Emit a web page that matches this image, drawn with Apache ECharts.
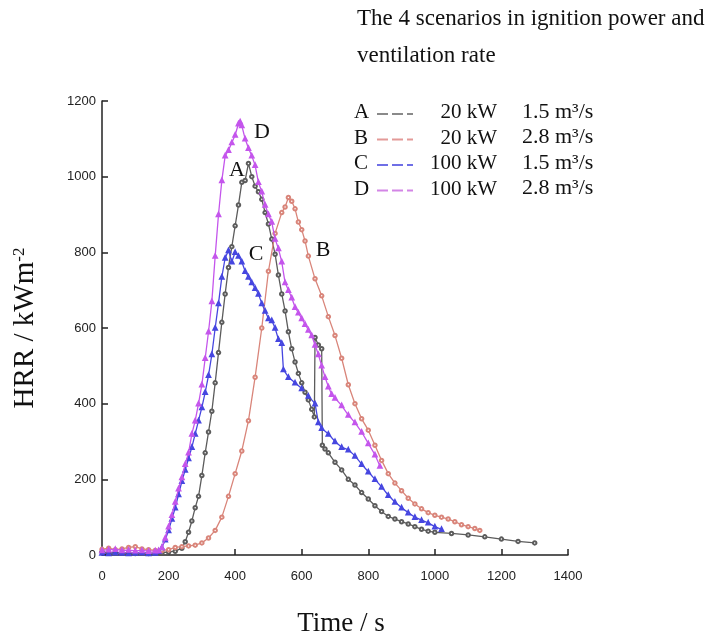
<!DOCTYPE html>
<html>
<head>
<meta charset="utf-8">
<script src="https://cdn.jsdelivr.net/npm/echarts@6/dist/echarts.min.js"></script>
<style>html,body{margin:0;padding:0;background:#fff}#c{width:708px;height:636px}</style>
</head>
<body>
<div id="c"></div>
<script>
// ---- Data (time in s, HRR in kW/m^2) ----
const xTicks = [0, 200, 400, 600, 800, 1000, 1200, 1400];
const yTicks = [0, 200, 400, 600, 800, 1000, 1200];

const tA = [0,20,40,60,80,100,120,140,160,180,200,220,240,250,260,270,280,290,300,310,320,330,340,350,360,370,380,390,400,410,420,430,440,450,460,470,480,490,500,510,520,530,540,550,560,570,580,590,600,610,620,630,638,640,650,660,662,670,680,700,720,740,760,780,800,820,840,860,880,900,920,940,960,980,1000,1050,1100,1150,1200,1250,1300];
const hA = [8,6,5,6,5,4,5,4,5,6,8,10,18,35,60,90,125,155,210,270,325,380,455,535,615,690,760,815,870,925,985,990,1035,1000,975,960,940,905,875,835,795,740,690,645,590,545,510,480,455,430,410,385,365,575,555,545,290,280,270,245,225,200,185,165,148,130,115,102,95,88,82,75,68,63,60,57,53,48,42,36,32];

const tB = [0,20,40,60,80,100,120,140,160,180,200,220,240,260,280,300,320,340,360,380,400,420,440,460,480,500,520,540,550,560,570,580,590,600,610,620,640,660,680,700,720,740,760,780,800,820,840,860,880,900,920,940,960,980,1000,1020,1040,1060,1080,1100,1120,1135];
const hB = [15,18,14,16,20,22,16,14,12,12,14,20,22,24,26,32,45,65,100,155,215,275,355,470,600,750,850,905,920,945,935,915,880,860,830,790,730,685,630,580,520,450,400,360,330,290,250,215,190,170,150,135,122,112,105,100,95,88,80,75,70,65];

const tC = [0,20,40,60,80,100,120,140,160,170,180,190,200,210,220,230,240,250,260,270,280,290,300,310,320,330,340,350,360,370,380,390,400,410,420,430,440,450,460,470,480,490,500,510,520,530,540,545,560,580,600,620,640,650,660,680,700,720,740,760,780,800,820,840,860,880,900,920,940,960,980,1000,1020];
const hC = [5,4,6,5,4,5,6,4,5,10,20,40,65,95,125,160,195,225,255,285,320,355,390,430,475,530,600,665,735,785,805,775,800,790,775,750,735,720,705,690,665,645,625,620,600,570,560,490,470,455,440,420,400,350,335,320,300,285,278,262,240,220,200,180,158,140,125,112,100,92,85,75,68];

const tD = [0,20,40,60,80,100,120,140,160,170,180,190,200,210,220,230,240,250,260,270,280,290,300,310,320,330,340,350,360,370,380,390,400,410,415,420,430,440,450,460,470,480,490,500,510,520,530,540,550,560,570,580,590,600,610,620,630,640,650,660,670,680,690,700,720,740,760,780,800,820,835];
const hD = [12,14,15,12,13,11,12,10,11,12,20,45,75,105,140,175,205,240,270,320,355,400,450,520,590,670,790,900,990,1055,1070,1090,1110,1140,1145,1135,1100,1075,1055,1030,985,960,925,900,880,835,810,775,720,700,680,655,640,625,610,595,580,555,530,500,470,445,425,415,395,370,350,325,295,265,235];

const seriesNames = ['A', 'B', 'C', 'D'];
const ignition = ['20 kW', '20 kW', '100 kW', '100 kW'];
const ventilation = ['1.5 m³/s', '2.8 m³/s', '1.5 m³/s', '2.8 m³/s'];
const titleLines = ['The 4 scenarios in ignition power and', 'ventilation rate'];
const xName = 'Time / s';
const yName = 'HRR / kWm';
const ySup = '-2';

// ---- styles ----
const lineColors = ['#5c5c5c', '#d9857a', '#4646e0', '#c455ec'];
const legendColors = ['#8a8a8a', '#e39a98', '#6f6fe6', '#d385e6'];
const symbols = ['emptyCircle', 'emptyCircle', 'emptyTriangle', 'emptyTriangle'];
const serif = '"Liberation Serif","Times New Roman",serif';
const axisFont = '"Liberation Sans Narrow","Arial Narrow","Liberation Sans",sans-serif';

const zip = (t, h) => t.map((v, i) => [v, h[i]]);
const dataSets = [zip(tA, hA), zip(tB, hB), zip(tC, hC), zip(tD, hD)];

const chart = echarts.init(document.getElementById('c'));

const series = dataSets.map((d, i) => ({
  name: seriesNames[i],
  type: 'line',
  data: d,
  showSymbol: true,
  symbol: symbols[i],
  symbolSize: 3.5,
  lineStyle: { color: lineColors[i], width: 1.3 },
  itemStyle: { color: lineColors[i], borderWidth: 0.9 },
  z: i === 3 ? 3 : 2,
  animation: false
}));

// Legend graphics (letters, dashes, text)
const legendTop = 113, legendStep = 25.5;
const graphics = [];
seriesNames.forEach((n, i) => {
  const cy = legendTop + i * legendStep;
  graphics.push({ type: 'text', left: 354, top: cy - 11, style: { text: n, font: '21px ' + serif, fill: '#111' } });
  graphics.push({ type: 'line', shape: { x1: 377, y1: cy + 1, x2: 413, y2: cy + 1 },
    style: { stroke: legendColors[i], lineWidth: 2.2, lineDash: [11, 4] } });
  graphics.push({ type: 'text', right: 708 - 497, top: cy - 11, style: { text: ignition[i], font: '21px ' + serif, fill: '#111', align: 'right' } });
  graphics.push({ type: 'text', left: 522, top: cy - 12, style: { text: ventilation[i], font: '22px ' + serif, fill: '#111' } });
});
// curve annotations
const ann = [['A', 237, 170], ['D', 262, 132], ['C', 256, 254], ['B', 323, 250]];
ann.forEach(a => graphics.push({ type: 'text', x: a[1], y: a[2], style: { text: a[0], font: '22px ' + serif, fill: '#111', align: 'center', verticalAlign: 'middle' } }));

chart.setOption({
  backgroundColor: '#ffffff',
  animation: false,
  title: {
    text: titleLines.join('\n'),
    left: 357, top: 0, padding: 0,
    textStyle: { fontFamily: serif, fontSize: 23, fontWeight: 'normal', color: '#111', lineHeight: 37 }
  },
  grid: { left: 102, right: 140, top: 101, bottom: 81, outerBoundsMode: 'none', containLabel: false },
  xAxis: {
    type: 'value', min: 0, max: 1400, interval: 200,
    name: xName, nameLocation: 'middle', nameGap: 55,
    nameTextStyle: { fontFamily: serif, fontSize: 27, color: '#111', padding: [0, 0, 0, 12] },
    axisLine: { lineStyle: { color: '#222', width: 1.5 } },
    axisTick: { inside: true, length: 6, lineStyle: { color: '#222', width: 1.5 } },
    axisLabel: { fontFamily: axisFont, fontSize: 13, color: '#222', margin: 15,
      formatter: v => xTicks.includes(v) ? String(v) : '' },
    splitLine: { show: false }
  },
  yAxis: {
    type: 'value', min: 0, max: 1200, interval: 200,
    name: '{a|' + yName + '}{s|' + ySup + '}', nameLocation: 'middle', nameGap: 62, nameRotate: 90,
    nameTextStyle: { fontFamily: serif, fontSize: 29, color: '#111',
      rich: { a: { fontFamily: serif, fontSize: 29, color: '#111' },
              s: { fontFamily: serif, fontSize: 17, color: '#111', verticalAlign: 'top', padding: [0, 0, 12, 0] } } },
    axisLine: { show: true, lineStyle: { color: '#222', width: 1.5 } },
    axisTick: { show: true, inside: true, length: 6, lineStyle: { color: '#222', width: 1.5 } },
    axisLabel: { fontFamily: axisFont, fontSize: 13, color: '#222', margin: 6,
      formatter: v => yTicks.includes(v) ? String(v) : '' },
    splitLine: { show: false }
  },
  graphic: graphics,
  series: series
});
</script>
</body>
</html>
